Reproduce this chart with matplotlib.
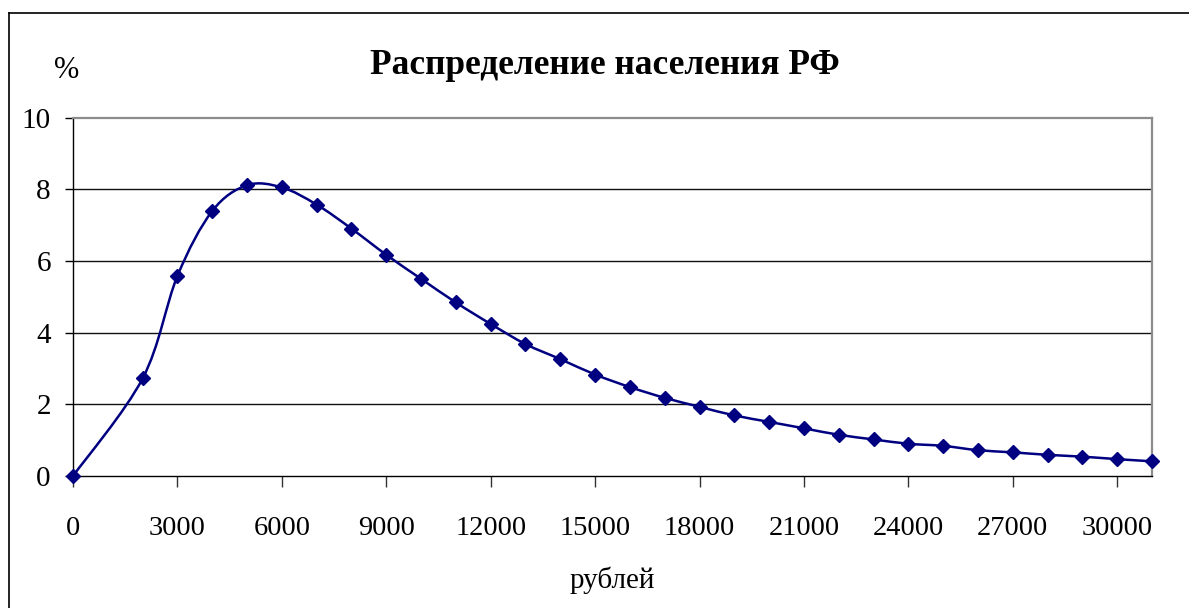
import matplotlib
matplotlib.use("Agg")
import matplotlib.pyplot as plt
from matplotlib.path import Path
from matplotlib.patches import PathPatch
from matplotlib.lines import Line2D
import numpy as np

# ---- data ----
income = [0, 2000, 3000, 4000, 5000, 6000, 7000, 8000, 9000, 10000,
          11000, 12000, 13000, 14000, 15000, 16000, 17000, 18000, 19000, 20000,
          21000, 22000, 23000, 24000, 25000, 26000, 27000, 28000, 29000, 30000, 31000]
share = [0.0, 2.72, 5.58, 7.39, 8.11, 8.05, 7.57, 6.90, 6.17, 5.50,
         4.84, 4.24, 3.68, 3.26, 2.83, 2.48, 2.18, 1.93, 1.69, 1.51,
         1.33, 1.15, 1.02, 0.90, 0.84, 0.72, 0.66, 0.59, 0.54, 0.47, 0.41]
xticks = list(range(0, 30001, 3000))
yticks = [0, 2, 4, 6, 8, 10]
title = "Распределение населения РФ"
xlabel = "рублей"
ylabel = "%"

W, H = 1189, 608
plt.rcParams['font.family'] = ['Liberation Serif', 'DejaVu Serif']
fig = plt.figure(figsize=(W / 100, H / 100), dpi=100)

ax = fig.add_axes([73 / W, 1 - 476 / H, (1152 - 73) / W, (476 - 117.5) / H])
ax.set_xlim(0, 31000)
ax.set_ylim(0, 10)

# smooth (Excel-style Catmull-Rom Bezier) curve through the points
pts = np.column_stack([income, share]).astype(float)
n = len(pts)
verts = [pts[0]]
codes = [Path.MOVETO]
for i in range(n - 1):
    p0 = pts[i - 1] if i > 0 else pts[i]
    p1 = pts[i]
    p2 = pts[i + 1]
    p3 = pts[i + 2] if i + 2 < n else pts[i + 1]
    c1 = p1 + (p2 - p0) / 6.0
    c2 = p2 - (p3 - p1) / 6.0
    verts += [c1, c2, p2]
    codes += [Path.CURVE4] * 3
curve = PathPatch(Path(verts, codes), facecolor='none', edgecolor='#000080',
                  lw=1.8, transform=ax.transData, zorder=3, clip_on=False)
ax.add_patch(curve)
ax.plot(income, share, linestyle='none', marker='D', markersize=7,
        color='#000080', zorder=4, clip_on=False)

# grid
for yv in yticks[1:-1]:
    ax.axhline(yv, color='#111111', lw=1.0, zorder=1)

# spines
ax.spines['left'].set_color('black')
ax.spines['bottom'].set_color('black')
ax.spines['left'].set_linewidth(1.0)
ax.spines['bottom'].set_linewidth(1.0)
ax.spines['top'].set_color('#8c8c8c')
ax.spines['right'].set_color('#8c8c8c')
ax.spines['top'].set_linewidth(1.6)
ax.spines['right'].set_linewidth(1.6)

ax.set_xticks(xticks)
ax.set_xticklabels([str(v) for v in xticks])
ax.set_yticks(yticks)
ax.set_yticklabels([str(v) for v in yticks])
ax.tick_params(axis='x', direction='out', length=8, width=1, color='#333333',
               pad=21, labelsize=20.5)
ax.tick_params(axis='y', direction='out', length=6, width=1, color='black',
               pad=10, labelsize=21)

fig.text(605 / W, 1 - 66 / H, title, ha='center', va='center',
         fontsize=25.5, fontweight='bold')
fig.text(67 / W, 1 - 70 / H, ylabel, ha='center', va='center', fontsize=22)
fig.text(612 / W, 1 - 580 / H, xlabel, ha='center', va='center', fontsize=21)

# outer chart frame
fig.add_artist(Line2D([8.5 / W, 8.5 / W], [-0.1, 1 - 13 / H], color='black',
                      lw=1.2, transform=fig.transFigure))
fig.add_artist(Line2D([8.5 / W, 1.1], [1 - 13 / H, 1 - 13 / H], color='black',
                      lw=1.2, transform=fig.transFigure))

fig.savefig("out.png", dpi=100)
